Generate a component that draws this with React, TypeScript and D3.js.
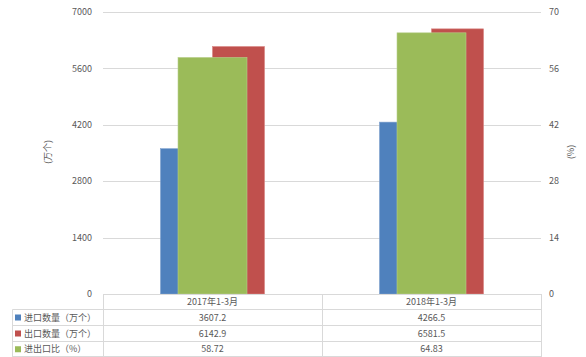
import React from "react";
import * as d3 from "d3";

const categories = ["2017年1-3月", "2018年1-3月"];
const importQty = [3607.2, 4266.5];
const exportQty = [6142.9, 6581.5];
const ratio = [58.72, 64.83];
const leftTicks = [0, 1400, 2800, 4200, 5600, 7000];
const rightTicks = [0, 14, 28, 42, 56, 70];
const seriesNames = ["进口数量（万个）", "出口数量（万个）", "进出口比（%）"];
const seriesColors = ["#4F81BD", "#C0504D", "#9BBB59"];
const tableValues = [
  ["3607.2", "4266.5"],
  ["6142.9", "6581.5"],
  ["58.72", "64.83"],
];

const W = 586, H = 357;
const plotL = 103, plotR = 541, plotT = 12, plotB = 294;
const rowLines = [294, 309.5, 325.5, 341.5, 357];
const tableL = 12.5;
const font = "'Noto Sans CJK SC', 'Noto Sans', sans-serif";
const textColor = "#595959";
const gridColor = "#D9D9D9";

export default function App() {
  const x = d3.scaleBand<string>().domain(categories).range([plotL, plotR]).padding(0);
  const inner = d3.scaleBand<string>().domain(["imp", "exp"]).range([0, x.bandwidth()]).paddingInner(0).paddingOuter(1.105);
  const yL = d3.scaleLinear().domain([0, 7000]).range([plotB, plotT]);
  const yR = d3.scaleLinear().domain([0, 70]).range([plotB, plotT]);
  const greenW = x.bandwidth() * 0.315;

  return (
    <svg width={W} height={H} style={{ position: "absolute", left: 0, top: 0, background: "#fff" }} fontFamily={font}>
      {/* gridlines */}
      {leftTicks.filter((t) => t !== 0).map((t) => (
        <line key={"g" + t} x1={plotL} x2={plotR} y1={Math.round(yL(t)) + 0.5} y2={Math.round(yL(t)) + 0.5} stroke={gridColor} strokeWidth={1} />
      ))}
      {/* left ticks */}
      {leftTicks.map((t) => (
        <text key={"l" + t} x={92} y={yL(t)} dy="0.35em" textAnchor="end" fontSize={9} fill={textColor}>{t}</text>
      ))}
      {rightTicks.map((t) => (
        <text key={"r" + t} x={549} y={yR(t)} dy="0.35em" textAnchor="start" fontSize={9} fill={textColor}>{t}</text>
      ))}
      <text transform={`translate(48,152) rotate(-90)`} textAnchor="middle" dy="0.35em" fontSize={9} fill={textColor}>(万个)</text>
      <text transform={`translate(571,152) rotate(-90)`} textAnchor="middle" dy="0.35em" fontSize={9} fill={textColor}>(%)</text>
      {/* bars */}
      {categories.map((c, i) => {
        const x0 = x(c)!;
        const cx = x0 + x.bandwidth() / 2;
        return (
          <g key={c}>
            <rect x={x0 + inner("imp")!} width={inner.bandwidth()} y={yL(importQty[i])} height={plotB - yL(importQty[i])} fill={seriesColors[0]} stroke="#7FA1CE" strokeWidth={0.6} />
            <rect x={x0 + inner("exp")!} width={inner.bandwidth()} y={yL(exportQty[i])} height={plotB - yL(exportQty[i])} fill={seriesColors[1]} stroke="#D98583" strokeWidth={0.6} />
            <rect x={cx - greenW / 2} width={greenW} y={yR(ratio[i])} height={plotB - yR(ratio[i])} fill={seriesColors[2]} stroke="#B8CE8C" strokeWidth={0.6} />
          </g>
        );
      })}
      {/* table */}
      <line x1={plotL} x2={plotR} y1={rowLines[0] + 0.5} y2={rowLines[0] + 0.5} stroke={gridColor} />
      {rowLines.slice(1).map((y, k) => (
        <line key={"rl" + k} x1={tableL} x2={plotR} y1={Math.round(y) - 0.5} y2={Math.round(y) - 0.5} stroke={gridColor} />
      ))}
      <line x1={tableL} x2={tableL} y1={rowLines[1]} y2={H} stroke={gridColor} />
      {[plotL, plotL + x.bandwidth(), plotR].map((vx, k) => (
        <line key={"vl" + k} x1={vx + 0.5} x2={vx + 0.5} y1={rowLines[0]} y2={H} stroke={gridColor} />
      ))}
      {categories.map((c) => (
        <text key={"h" + c} x={x(c)! + x.bandwidth() / 2} y={(rowLines[0] + rowLines[1]) / 2} dy="0.35em" textAnchor="middle" fontSize={9} fill={textColor}>{c}</text>
      ))}
      {seriesNames.map((s, r) => {
        const yc = (rowLines[r + 1] + rowLines[r + 2]) / 2;
        return (
          <g key={s}>
            <rect x={15} y={yc - 3} width={6} height={6} fill={seriesColors[r]} />
            <text x={24} y={yc} dy="0.35em" fontSize={9} fill={textColor}>{s}</text>
            {categories.map((c, i) => (
              <text key={c} x={x(c)! + x.bandwidth() / 2} y={yc} dy="0.35em" textAnchor="middle" fontSize={9} fill={textColor}>{tableValues[r][i]}</text>
            ))}
          </g>
        );
      })}
    </svg>
  );
}
